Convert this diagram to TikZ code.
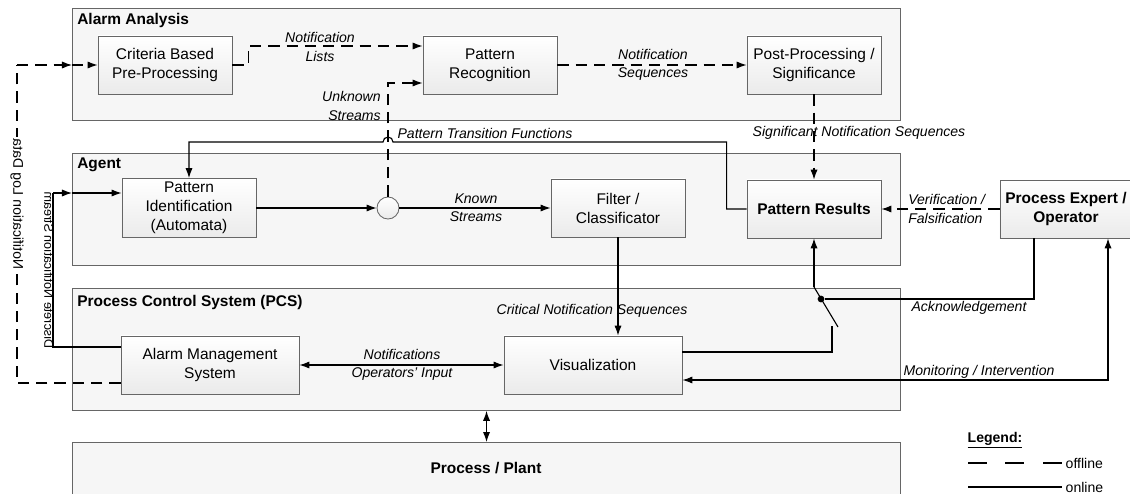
\documentclass[tikz,border=0pt]{standalone}
\usepackage{fontspec}
\setmainfont{Liberation Sans}
\usetikzlibrary{arrows.meta,calc}

\tikzset{
  >={Latex[length=2.5mm,width=1.8mm]},
  area/.style={draw=black!60, line width=0.6pt, fill=gray!7, minimum width=20.7cm, anchor=north west, inner sep=0pt},
  block/.style={draw=black!60, line width=0.6pt, top color=white, bottom color=gray!16, minimum width=3.35cm, minimum height=1.45cm, align=center, inner sep=0pt, font=\fontsize{11}{13.5}\selectfont},
  boldblock/.style={block, font=\fontsize{11}{13.5}\selectfont\bfseries},
  heading/.style={font=\fontsize{11}{13}\selectfont\bfseries, anchor=north west, inner sep=0pt},
  lbl/.style={font=\fontsize{10}{13}\selectfont\itshape, align=center, inner sep=0pt},
  sidelbl/.style={font=\fontsize{10}{12}\selectfont, rotate=90, yscale=-1, inner sep=1pt},
  wire/.style={line width=0.8pt},
  online/.style={wire, ->},
  offline/.style={wire, ->, dash pattern=on 8pt off 5pt},
}

\begin{document}
\begin{tikzpicture}[x=0.025cm, y=-0.025cm]
\useasboundingbox (0,0) rectangle (1130,493);

  % layers
  \node[area, minimum height=2.8cm] (analysis) at (72,8) {};
  \node[area, minimum height=2.8cm] (agent) at (72,153) {};
  \node[area, minimum height=3.05cm] (pcs) at (72,288) {};
  \node[area, minimum height=2cm] (plant) at (72,442) {};
  \node[heading] (tanalysis) at (77,13) {Alarm Analysis};
  \node[heading] (tagent) at (77,158) {Agent};
  \node[heading] (tpcs) at (77,295) {Process Control System (PCS)};
  \node[heading, anchor=center] (tplant) at (486,468) {Process / Plant};

  % blocks
  \node[block] (crit) at (165,65) {Criteria Based\\Pre-Processing};
  \node[block] (prec) at (490,65) {Pattern\\Recognition};
  \node[block] (post) at (814,65) {Post-Processing /\\Significance};
  \node[block, minimum height=1.475cm] (pid) at (189,208) {Pattern\\Identification\\(Automata)};
  \node[block] (filt) at (618,208) {Filter /\\Classificator};
  \node[boldblock] (pres) at (814,209) {Pattern Results};
  \node[boldblock, minimum width=3.3cm] (oper) at (1066,209) {Process Expert /\\Operator};
  \node[block, minimum width=4.45cm] (ams) at (210,365) {Alarm Management\\System};
  \node[block, minimum width=4.45cm] (vis) at (593,365) {Visualization};
  \node[circle, draw=black!60, line width=0.6pt, top color=white, bottom color=gray!16, minimum size=0.55cm, inner sep=0pt] (junc) at (388,208) {};

  % offline paths
  \draw[offline] (crit.east) -- ++(16,0) |- ($(prec.west)+(0,-19)$);
  \draw[offline] (junc.north) |- ($(prec.west)+(0,18)$);
  \draw[offline] (prec.east) -- (post.west);
  \draw[offline] (post.south) -- (pres.north);
  \draw[offline] (oper.west) -- (pres.east);

  % online paths
  \draw[online] (pres.west) -- ++(-20,0) -- ++(0,-67) -- (393,142)
    arc[start angle=0, end angle=180, radius=0.125cm] -| (pid.north);
  \draw[online] (pid.east) -- (junc.west);
  \draw[online] (junc.east) -- (filt.west);
  \draw[online] (filt.south) -- (filt.south |- vis.north);
  \draw[wire, <->] (ams.east) -- (vis.west);
  \draw[wire, <->] ($(oper.south)+(42,0)$) |- ($(vis.east)+(0,15)$);
  \draw[wire, <->] (pcs.south -| plant.north) -- (plant.north);

  % switch
  \coordinate (swin) at (832,326);
  \coordinate (swpivot) at (814,287);
  \draw[wire] ($(vis.east)+(0,-13)$) -| (swin);
  \draw[wire] (838,327) -- (swpivot);
  \draw[online] (swpivot) -- (pres.south);
  \node[circle, fill, inner sep=1.7pt] (ackdot) at (821,299) {};
  \draw[wire] (ackdot) -| ($(oper.south)+(-32,0)$);

  % feeds on the left
  \coordinate (dsn) at (53,193);
  \draw[wire] ($(ams.west)+(0,-18)$) -| (dsn);
  \draw[online] (dsn) -- (agent.west |- dsn);
  \draw[online] (agent.west |- dsn) -- (pid.west |- dsn);
  \coordinate (nld) at (17,65);
  \draw[wire, dash pattern=on 8pt off 5pt] ($(ams.west)+(0,18)$) -| (nld);
  \draw[offline] (nld) -- (analysis.west |- nld);
  \draw[offline] (analysis.west |- nld) -- (crit.west);
  \node[sidelbl, font=\fontsize{9}{11}\selectfont] (ldsn) at (49,270) {Discrete Notification Stream};
  \node[sidelbl, fill=white] (lnld) at (17,204) {Notification Log Data};

  % labels
  \node[lbl] (lnlist) at (320,47) {Notification\\Lists};
  \node[lbl] (lnseq) at (653,65) {Notification\\Sequences};
  \node[lbl, align=right, anchor=east] (lunk) at (381,106) {Unknown\\Streams};
  \node[lbl] (lptf) at (485,133) {Pattern Transition Functions};
  \node[lbl] (lsig) at (859,133) {Significant Notification Sequences};
  \node[lbl] (lknown) at (476,208) {Known\\Streams};
  \node[lbl] (lcrit) at (592,311) {Critical Notification Sequences};
  \node[lbl, align=left, anchor=west] (lver) at (908,209) {Verification /\\Falsification};
  \node[lbl] (lack) at (969,308) {Acknowledgement};
  \node[lbl] (lmon) at (979,372) {Monitoring / Intervention};
  \node[lbl] (lnotif) at (402,365) {Notifications\\Operators' Input};

  % legend
  \node[font=\fontsize{10}{12}\selectfont\bfseries] (legend) at (995,440) {\underline{Legend:}};
  \foreach \a in {968,1005,1043} \draw[wire] (\a,463) -- ++(19,0);
  \node[anchor=west, font=\fontsize{10}{12}\selectfont, inner sep=1pt] (loff) at (1064,463) {offline};
  \draw[wire] (968,487) -- (1062,487);
  \node[anchor=west, font=\fontsize{10}{12}\selectfont, inner sep=1pt] (lon) at (1064,487) {online};

\end{tikzpicture}
\end{document}
